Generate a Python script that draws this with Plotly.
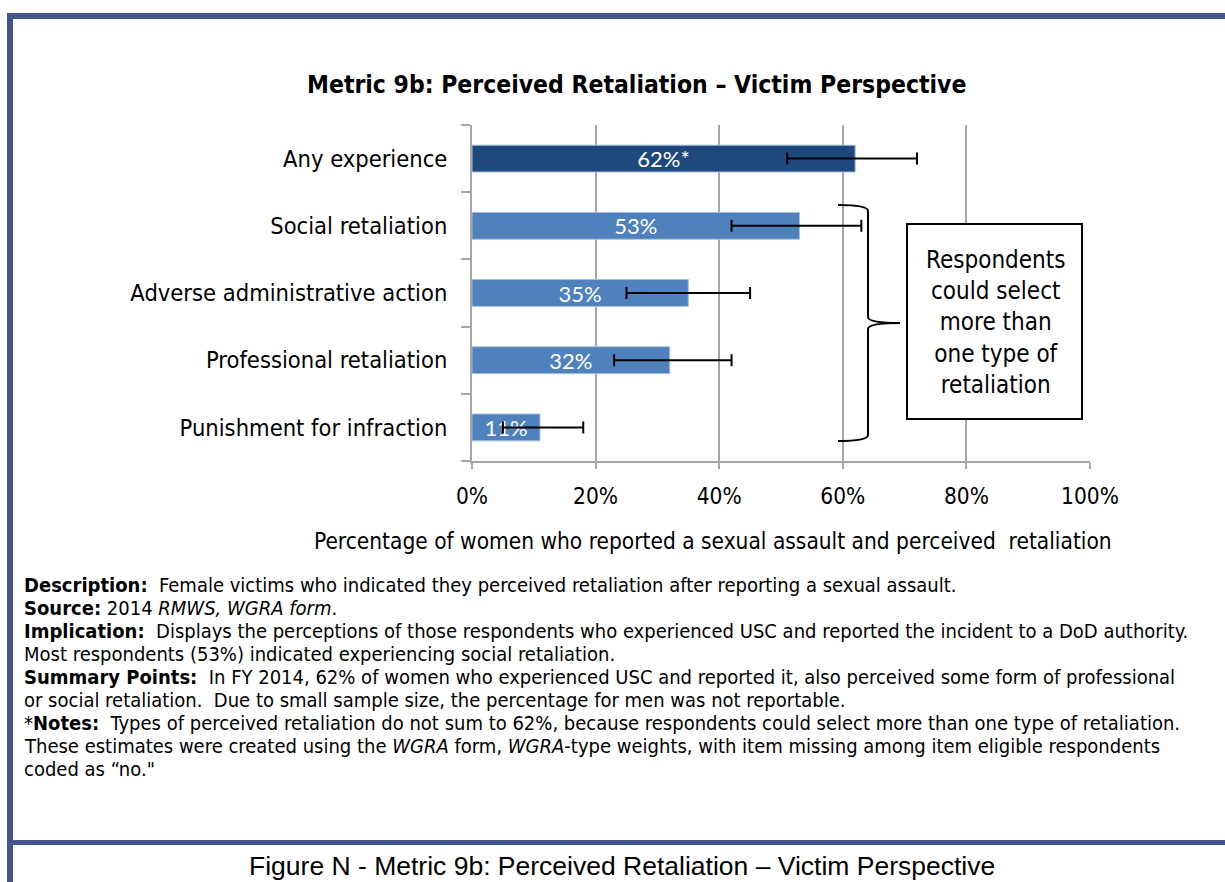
import plotly.graph_objects as go

# ---- data ----
categories = ["Any experience", "Social retaliation", "Adverse administrative action",
              "Professional retaliation", "Punishment for infraction"]
values = [62, 53, 35, 32, 11]
err_plus = [10, 10, 10, 10, 7]
err_minus = [11, 11, 10, 9, 6]
bar_labels = ["62%*", "53%", "35%", "32%", "11%"]
bar_colors = ["#1f497d", "#4f81bd", "#4f81bd", "#4f81bd", "#4f81bd"]
x_ticks = [0, 20, 40, 60, 80, 100]

note_lines = [
    "<b>Description:</b>  Female victims who indicated they perceived retaliation after reporting a sexual assault.",
    "<b>Source:</b> 2014 <i>RMWS, WGRA form</i>.",
    "<b>Implication:</b>  Displays the perceptions of those respondents who experienced USC and reported the incident to a DoD authority.",
    "Most respondents (53%) indicated experiencing social retaliation.",
    "<b>Summary Points:</b>  In FY 2014, 62% of women who experienced USC and reported it, also perceived some form of professional",
    "or social retaliation.  Due to small sample size, the percentage for men was not reportable.",
    "*<b>Notes:</b>  Types of perceived retaliation do not sum to 62%, because respondents could select more than one type of retaliation.",
    "These estimates were created using the <i>WGRA</i> form, <i>WGRA</i>-type weights, with item missing among item eligible respondents",
    "coded as “no.\"",
]

W, H = 1225, 882
NARROW = "Liberation Sans Narrow, Arial Narrow, DejaVu Sans Condensed, sans-serif"
BORDER = "#44578a"

def px(x):
    return x / W

def py(y):
    return 1 - y / H

n = len(categories)
ypos = [n - 1 - i for i in range(n)]

fig = go.Figure()
fig.add_trace(go.Bar(
    x=values, y=ypos, orientation="h",
    marker=dict(color=bar_colors, line=dict(color="#a9c1e0", width=1)),
    width=0.4,
    text=bar_labels, textposition="inside", insidetextanchor="middle",
    constraintext="none",
    textfont=dict(family="Lato, sans-serif", size=22, color="white"),
    error_x=dict(type="data", symmetric=False, array=err_plus, arrayminus=err_minus,
                 color="black", thickness=2, width=6),
    hoverinfo="skip", showlegend=False,
))
fig.add_trace(go.Scatter(x=[None] * n, y=ypos, yaxis="y2", mode="markers",
                         showlegend=False, hoverinfo="skip"))

x0p, x1p = px(472), px(1090)
ytop, ybot = py(125), py(461)

fig.update_layout(
    template="none",
    width=W, height=H, margin=dict(l=0, r=0, t=0, b=0, pad=0, autoexpand=False),
    paper_bgcolor="white", plot_bgcolor="white",
    xaxis=dict(domain=[x0p, x1p], range=[0, 100], tickvals=x_ticks,
               ticktext=[f"{v}%" for v in x_ticks], automargin=False,
               showgrid=True, gridcolor="#a6a6a6", gridwidth=1.5,
               showline=True, linecolor="#a6a6a6", linewidth=1.5,
               ticks="outside", ticklen=6, tickcolor="#a6a6a6", tickwidth=1.5,
               ticklabelstandoff=8,
               tickfont=dict(family=NARROW, size=22.5, color="black"),
               zeroline=False, fixedrange=True),
    yaxis=dict(domain=[ybot, ytop], range=[-0.5, n - 0.5], automargin=False,
               tickvals=[i - 0.5 for i in range(n + 1)], showticklabels=False,
               ticks="outside", ticklen=9, tickcolor="#a6a6a6", tickwidth=1.5,
               showline=True, linecolor="#a6a6a6", linewidth=1.5,
               showgrid=False, zeroline=False, fixedrange=True),
    yaxis2=dict(domain=[ybot, ytop], range=[-0.5, n - 0.5], overlaying="y",
                anchor="x", side="left", automargin=False,
                tickvals=ypos, ticktext=categories,
                ticks="outside", ticklen=19, tickcolor="rgba(0,0,0,0)",
                tickfont=dict(family=NARROW, size=23.5, color="black"),
                showline=False, showgrid=False, zeroline=False, fixedrange=True),
)

fig.add_annotation(text="<b>Metric 9b: Perceived Retaliation – Victim Perspective</b>",
                   xref="paper", yref="paper", x=px(636), y=py(84),
                   xanchor="center", yanchor="middle", showarrow=False,
                   font=dict(family=NARROW, size=24.5, color="black"))
fig.add_annotation(text="Percentage of women who reported a sexual assault and perceived  retaliation",
                   xref="paper", yref="paper", x=px(713), y=py(541),
                   xanchor="center", yanchor="middle", showarrow=False,
                   font=dict(family=NARROW, size=22.5, color="black"))

bx0, bx1, btip = px(838), px(868), px(900)
by_top, by_mid, by_bot = py(205), py(323), py(441)
d = 6 / H
path = (f"M {bx0},{by_top} Q {bx1},{by_top} {bx1},{by_top - d} "
        f"L {bx1},{by_mid + d} Q {bx1},{by_mid} {btip},{by_mid} "
        f"Q {bx1},{by_mid} {bx1},{by_mid - d} "
        f"L {bx1},{by_bot + d} Q {bx1},{by_bot} {bx0},{by_bot}")
fig.add_shape(type="path", path=path, xref="paper", yref="paper",
              line=dict(color="black", width=2))

fig.add_shape(type="rect", xref="paper", yref="paper",
              x0=px(907), x1=px(1082), y0=py(419), y1=py(224),
              line=dict(color="black", width=2), fillcolor="white")
fig.add_annotation(text="Respondents<br>could select<br>more than<br>one type of<br>retaliation",
                   xref="paper", yref="paper", x=px(995), y=py(322),
                   xanchor="center", yanchor="middle", align="center", showarrow=False,
                   font=dict(family=NARROW, size=24, color="black"))

for i, line in enumerate(note_lines):
    fig.add_annotation(text=line, xref="paper", yref="paper", x=px(22), y=py(585 + 23 * i),
                       xanchor="left", yanchor="middle", align="left", showarrow=False,
                       font=dict(family=NARROW, size=20, color="black"))

fig.add_annotation(text="Figure N - Metric 9b: Perceived Retaliation – Victim Perspective",
                   xref="paper", yref="paper", x=px(622), y=py(866),
                   xanchor="center", yanchor="middle", showarrow=False,
                   font=dict(family="Liberation Sans, Arial, sans-serif", size=26.5, color="black"))

fig.add_shape(type="rect", xref="paper", yref="paper", x0=px(7), x1=px(13), y0=0, y1=py(13),
              line=dict(width=0), fillcolor=BORDER)
fig.add_shape(type="rect", xref="paper", yref="paper", x0=px(7), x1=1, y0=py(19), y1=py(13),
              line=dict(width=0), fillcolor=BORDER)
fig.add_shape(type="rect", xref="paper", yref="paper", x0=px(13), x1=1, y0=py(845), y1=py(840),
              line=dict(width=0), fillcolor=BORDER)

fig.write_html("out.html", config={"displayModeBar": False},
               post_script="document.body.style.margin='0';")
